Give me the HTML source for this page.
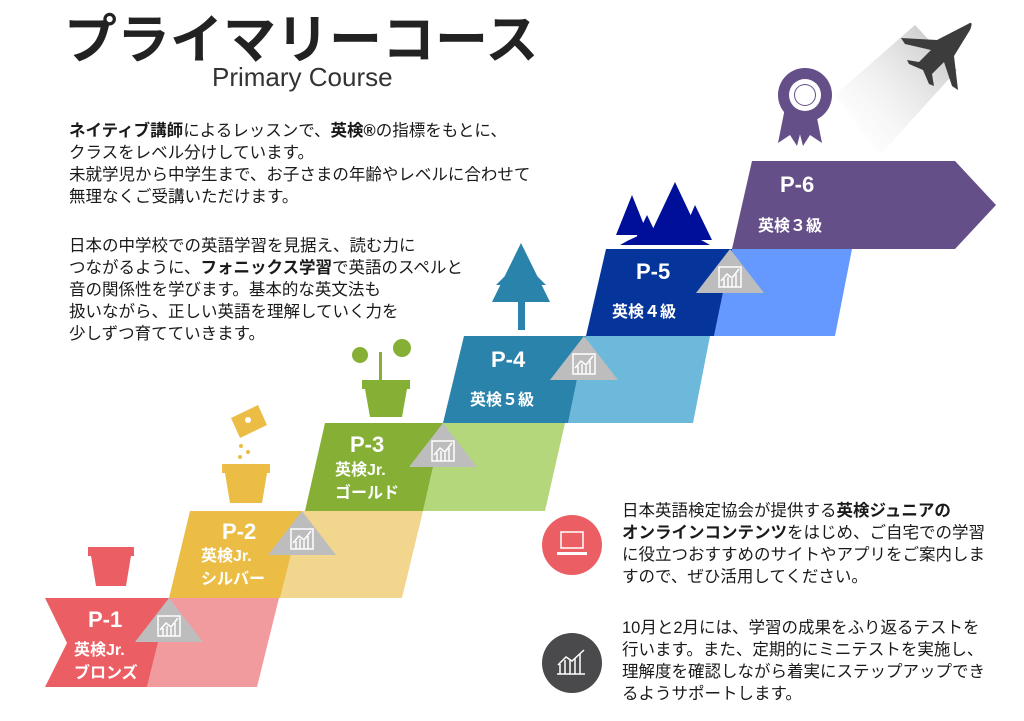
<!DOCTYPE html>
<html><head><meta charset="utf-8"><style>
body{margin:0;width:1024px;height:721px;background:#fff;position:relative;overflow:hidden;font-family:"Liberation Sans","Noto Sans CJK JP",sans-serif;color:#222}
.t{position:absolute;white-space:nowrap}
.p{position:absolute;font-size:16.5px;line-height:22px;white-space:nowrap;color:#1a1a1a}
b{font-weight:bold}
svg{position:absolute;left:0;top:0}
</style></head><body>
<svg width="1024" height="721" viewBox="0 0 1024 721">
<defs><linearGradient id="g" x1="1" y1="0" x2="0" y2="1"><stop offset="0" stop-color="#bbb"/><stop offset="1" stop-color="#fff" stop-opacity="0"/></linearGradient>
<g id="tri"><polygon points="0,0 34,44 -34,44" fill="#bdbdbd"/><g fill="none" stroke="#fff" stroke-width="1.5"><rect x="-11" y="18" width="22" height="20"/><polyline points="-9,32 -3,25 2,29 9,20"/><line x1="-6" y1="30" x2="-6" y2="38"/><line x1="-2" y1="28" x2="-2" y2="38"/><line x1="2" y1="30" x2="2" y2="38"/><line x1="6" y1="25" x2="6" y2="38"/></g></g>
</defs>
<polygon points="169,598 279,598 257,687 147,687" fill="#f29b9e"/>
<polygon points="45,598 169,598 147,687 45,687 67,643" fill="#eb5f64"/>
<polygon points="302,511 423,511 402,598 280,598" fill="#f3d68e"/>
<polygon points="190,511 302,511 280,598 169,598" fill="#ebbd45"/>
<polygon points="443,423 565,423 545,511 423,511" fill="#b5d77b"/>
<polygon points="325,423 443,423 423,511 305,511" fill="#85b035"/>
<polygon points="586,336 710,336 693,423 568,423" fill="#6db9dc"/>
<polygon points="464,336 586,336 568,423 443,423" fill="#2a83ab"/>
<polygon points="732,249 852,249 835,336 714,336" fill="#6699ff"/>
<polygon points="606,249 732,249 714,336 586,336" fill="#05349a"/>
<polygon points="752,161 955,161 996,205 955,249 732,249" fill="#644f88"/>
<use href="#tri" x="169" y="598"/>
<use href="#tri" x="302" y="511"/>
<use href="#tri" x="443" y="423"/>
<use href="#tri" x="584" y="336"/>
<use href="#tri" x="730" y="249"/>
<g fill="#fff" font-weight="bold" font-family="Liberation Sans,Noto Sans CJK JP,sans-serif">
<text x="88" y="627" font-size="22">P-1</text><text x="74" y="655" font-size="16">英検Jr.</text><text x="74" y="678" font-size="16">ブロンズ</text>
<text x="222" y="539" font-size="22">P-2</text><text x="201" y="561" font-size="16">英検Jr.</text><text x="201" y="584" font-size="16">シルバー</text>
<text x="350" y="452" font-size="22">P-3</text><text x="335" y="475" font-size="16">英検Jr.</text><text x="335" y="498" font-size="16">ゴールド</text>
<text x="491" y="367" font-size="22">P-4</text><text x="470" y="405" font-size="16">英検５級</text>
<text x="636" y="279" font-size="22">P-5</text><text x="612" y="317" font-size="16">英検４級</text>
<text x="780" y="192" font-size="22">P-6</text><text x="758" y="231" font-size="16">英検３級</text>
</g>
<path d="M88,547 h46 v9 h-3 l-5,30 h-30 l-5,-30 h-3z" fill="#eb5f64"/>
<path d="M222,464 h48 v9 h-3 l-5,30 h-32 l-5,-30 h-3z" fill="#ebbd45"/>
<polygon points="231,418 258,405 267,425 240,438" fill="#ebbd45"/><circle cx="248" cy="420" r="3" fill="#fff"/>
<circle cx="241" cy="446" r="2" fill="#ebbd45"/><circle cx="248" cy="452" r="2" fill="#ebbd45"/><circle cx="240" cy="457" r="2" fill="#ebbd45"/>
<path d="M362,380 h48 v9 h-3 l-5,28 h-32 l-5,-28 h-3z" fill="#85b035"/>
<g fill="#85b035"><circle cx="360" cy="355" r="8"/><circle cx="402" cy="348" r="9"/><rect x="379" y="352" width="3" height="28"/></g>
<polygon points="521,243 550,302 492,302" fill="#2a83ab"/><polygon points="521,260 546,285 496,285" fill="#2a83ab"/><rect x="518" y="300" width="7" height="30" fill="#2a83ab"/>
<g fill="#000f99"><path d="M620,245 q45,-28 90,0z"/><polygon points="675,182 700,235 650,235"/><polygon points="632,195 648,235 616,235"/><polygon points="695,205 712,240 680,240"/><polygon points="647,215 658,238 636,238"/></g>
<g fill="#644f88"><polygon points="785,108 778,143 790,135 797,146 805,115"/><polygon points="815,108 822,143 810,135 803,146 795,115"/><circle cx="805" cy="95" r="27"/></g><circle cx="805" cy="95" r="16" fill="#fff"/><circle cx="805" cy="95" r="11" fill="#644f88"/><circle cx="805" cy="95" r="10" fill="#fff"/>
<polygon points="835,95 915,25 957,70 880,155" fill="url(#g)"/>
<path d="M968,24 q6,-4 2,6 l-16,26 l4,34 l-6,-4 l-8,-24 l-12,12 l2,12 l-5,-2 l-6,-14 l-14,-6 l-2,-4 l12,2 l12,-12 l-26,-6 l-4,-6 l36,2 z" fill="#3c3c3c"/>
<circle cx="572" cy="545" r="30" fill="#eb5f64"/>
<rect x="561" y="532" width="22" height="16" fill="none" stroke="#fff" stroke-width="1.5"/><path d="M557,552 h30 v3 h-30z" fill="#fff"/>
<circle cx="572" cy="663" r="30" fill="#4a4a4c"/>
<g fill="none" stroke="#fff" stroke-width="1.5"><polyline points="558,665 566,657 572,661 584,650"/><line x1="560" y1="664" x2="560" y2="674"/><line x1="565" y1="660" x2="565" y2="674"/><line x1="570" y1="660" x2="570" y2="674"/><line x1="575" y1="658" x2="575" y2="674"/><line x1="580" y1="654" x2="580" y2="674"/><line x1="557" y1="674" x2="585" y2="674"/></g>
</svg>
<div class="t" style="left:64px;top:-2px;font-size:53px;font-weight:bold;color:#222">プライマリーコース</div>
<div class="t" style="left:212px;top:62px;font-size:26px;color:#333">Primary Course</div>
<div class="p" style="left:69px;top:120px"><b>ネイティブ講師</b>によるレッスンで、<b>英検®</b>の指標をもとに、<br>クラスをレベル分けしています。<br>未就学児から中学生まで、お子さまの年齢やレベルに合わせて<br>無理なくご受講いただけます。</div>
<div class="p" style="left:69px;top:235px">日本の中学校での英語学習を見据え、読む力に<br>つながるように、<b>フォニックス学習</b>で英語のスペルと<br>音の関係性を学びます。基本的な英文法も<br>扱いながら、正しい英語を理解していく力を<br>少しずつ育てていきます。</div>
<div class="p" style="left:622px;top:500px">日本英語検定協会が提供する<b>英検ジュニアの</b><br><b>オンラインコンテンツ</b>をはじめ、ご自宅での学習<br>に役立つおすすめのサイトやアプリをご案内しま<br>すので、ぜひ活用してください。</div>
<div class="p" style="left:622px;top:617px">10月と2月には、学習の成果をふり返るテストを<br>行います。また、定期的にミニテストを実施し、<br>理解度を確認しながら着実にステップアップでき<br>るようサポートします。</div>
</body></html>
